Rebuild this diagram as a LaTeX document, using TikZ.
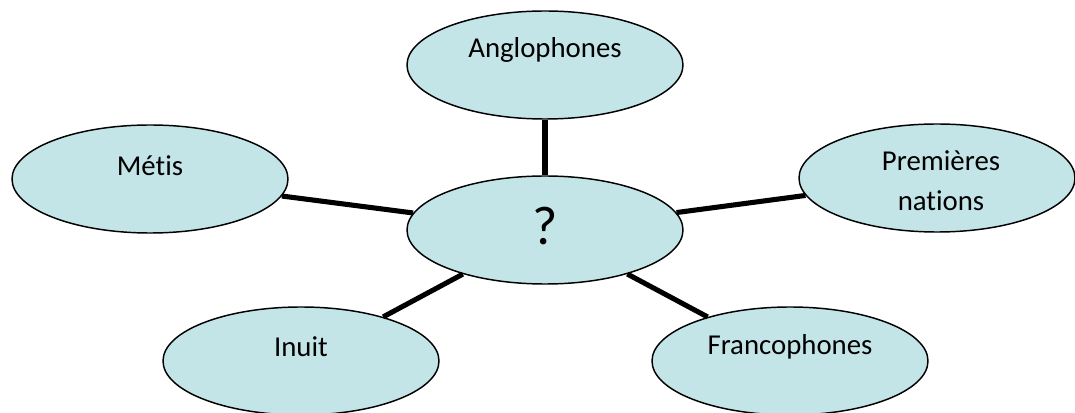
\documentclass[tikz,border=0pt]{standalone}
\usepackage{fontspec}
\setmainfont{Carlito}[Ligatures=NoCommon]
\usetikzlibrary{shapes}
\definecolor{bullefill}{RGB}{196,229,232}
\newcommand{\lbl}{\fontsize{21.6}{30}\selectfont}

\begin{document}
\begin{tikzpicture}[x=0.75pt,y=0.75pt]
\tikzstyle{bulle}=[ellipse, draw=black, line width=1.1pt, fill=bullefill, minimum width=207pt, minimum height=81pt, inner sep=0pt]
\tikzstyle{lien}=[line width=3.8pt]

	\useasboundingbox (0,0) rectangle (1075,-413);

	\node[bulle] (centre) at (545,-230) [label={[yshift=3pt,font=\fontsize{41}{41}\selectfont]center:?}]{};
	\node[bulle] (anglo) at (545,-65) [label={[yshift=11pt,font=\lbl]center:Anglophones}]{};
	\node[bulle] (metis) at (150,-179) [label={[yshift=10pt,font=\lbl]center:Métis}]{};
	\node[bulle] (premieres) at (937,-178) [label={[xshift=3pt,yshift=-2pt,align=center,font=\lbl]center:Premières\\nations}]{};
	\node[bulle] (inuit) at (301,-361) [label={[yshift=11pt,font=\lbl]center:Inuit}]{};
	\node[bulle] (franco) at (790,-361) [label={[yshift=11pt,font=\lbl]center:Francophones}]{};

	\path
		(anglo) edge [lien] (centre)
		(metis) edge [lien] (centre)
		(premieres) edge [lien] (centre)
		(inuit) edge [lien] (centre)
		(franco) edge [lien] (centre);

\end{tikzpicture}
\end{document}
